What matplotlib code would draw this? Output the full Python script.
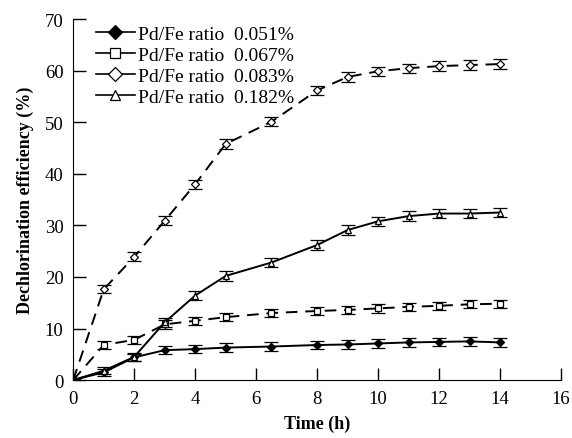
import matplotlib
matplotlib.use('Agg')
import matplotlib.pyplot as plt
from matplotlib.lines import Line2D

plt.rcParams['font.family'] = ['Liberation Serif', 'DejaVu Serif']

# 시간 (h)
time = [0, 1, 2, 3, 4, 5, 6.5, 8, 9, 10, 11, 12, 13, 14]

# 탈염소 효율 (%)
eff_051 = [0, 1.5, 4.4, 5.8, 6.0, 6.3, 6.5, 6.8, 6.9, 7.1, 7.3, 7.4, 7.5, 7.3]
eff_067 = [0, 6.8, 7.8, 10.8, 11.5, 12.2, 13.0, 13.4, 13.6, 13.9, 14.2, 14.4, 14.7, 14.8]
eff_083 = [0, 17.6, 23.9, 30.9, 38.0, 45.8, 50.1, 56.2, 58.8, 59.9, 60.5, 60.9, 61.1, 61.3]
eff_182 = [0, 1.8, 4.5, 11.2, 16.4, 20.2, 22.8, 26.2, 29.1, 30.8, 31.8, 32.3, 32.3, 32.5]

# 오차
err_051 = [0.3, 0.7, 0.7, 0.8, 0.8, 0.8, 0.8, 0.8, 0.8, 0.8, 0.8, 0.8, 0.8, 0.8]
err_067 = [0.3, 0.8, 0.8, 0.8, 0.8, 0.8, 0.8, 0.8, 0.8, 0.8, 0.8, 0.8, 0.8, 0.8]
err_083 = [0.3, 0.8, 0.9, 0.9, 0.9, 0.9, 0.9, 0.9, 0.9, 0.9, 0.9, 0.9, 0.9, 0.9]
err_182 = [0.3, 0.7, 0.8, 0.9, 0.9, 0.9, 0.9, 0.9, 0.9, 0.9, 0.9, 0.9, 0.9, 0.9]

labels = ['Pd/Fe ratio  0.051%', 'Pd/Fe ratio  0.067%',
          'Pd/Fe ratio  0.083%', 'Pd/Fe ratio  0.182%']

fig = plt.figure(figsize=(5.72, 4.39), dpi=100)
ax = fig.add_axes([0.128, 0.132, 0.853, 0.822])

dash = (0, (6, 4))
series = [
    (eff_051, err_051, 'D', 'black', '-'),
    (eff_067, err_067, 's', 'white', dash),
    (eff_083, err_083, 'D', 'white', dash),
    (eff_182, err_182, '^', 'white', '-'),
]
for y, e, m, fc, ls in series:
    ax.errorbar(time, y, yerr=e, color='black', linestyle=ls, linewidth=1.4,
                marker=m, markersize=4, markerfacecolor=fc,
                markeredgecolor='black', markeredgewidth=0.9,
                elinewidth=1.0, capsize=5, capthick=1.8)

handles = [Line2D([], [], color='black', linewidth=1.2, marker=m, markersize=7,
                  markerfacecolor=fc, markeredgecolor='black', markeredgewidth=0.9)
           for _, _, m, fc, _ in series]
ax.legend(handles, labels, loc='upper left', frameon=False, fontsize=14,
          handlelength=2.0, handletextpad=0.2, labelspacing=0.18,
          borderaxespad=0, bbox_to_anchor=(0.03, 1.005))

ax.set_xlim(0, 16)
ax.set_ylim(0, 70)
ax.set_xticks(range(0, 17, 2))
ax.set_yticks(range(0, 71, 10))
ax.spines['top'].set_visible(False)
ax.spines['right'].set_visible(False)
ax.tick_params(direction='in', length=9, width=1, labelsize=13.5, pad=7)
ax.set_xlabel('Time (h)', fontsize=13, fontweight='bold', labelpad=6)
ax.set_ylabel('Dechlorination efficiency (%)', fontsize=13, fontweight='bold', labelpad=8)

fig.savefig('out.png', dpi=100)
